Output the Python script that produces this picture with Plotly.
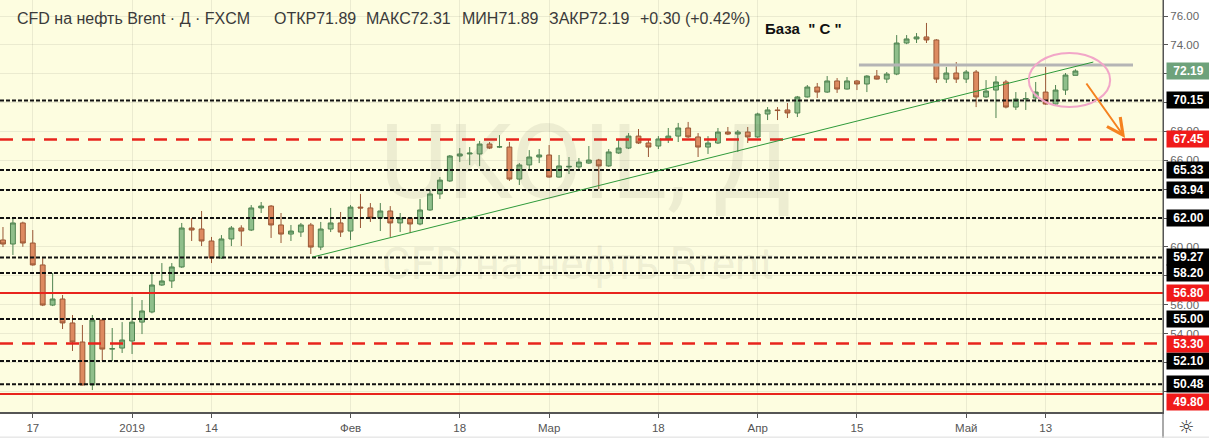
import plotly.graph_objects as go

# ---------------- data ----------------
opens = [60.48, 60.20, 61.66, 60.27, 58.75, 55.97, 56.39, 54.73, 53.41, 50.43,
         54.93, 52.92, 52.99, 53.48, 54.79, 55.49, 57.36, 57.64, 58.61, 61.31,
         61.24, 60.41, 59.23, 60.55, 61.31, 61.17, 62.70, 62.83, 61.52, 60.89,
         61.03, 61.52, 59.99, 61.24, 61.66, 61.10, 62.76, 62.70, 62.00, 62.49,
         61.66, 62.00, 61.59, 62.56, 63.67, 64.57, 66.30, 66.44, 66.44, 67.13,
         66.92, 66.92, 64.70, 65.68, 66.23, 66.37, 64.84, 65.54, 65.54, 65.81,
         66.02, 65.61, 66.51, 66.85, 67.68, 67.20, 66.99, 67.48, 67.68, 68.24,
         67.62, 66.92, 67.20, 67.96, 67.82, 67.96, 67.62, 69.21, 69.49, 69.49,
         69.28, 70.39, 71.08, 70.73, 71.50, 70.94, 71.50, 71.29, 71.84, 71.63,
         71.98, 74.13, 74.41, 74.55, 74.34, 71.63, 72.05, 71.63, 72.12, 70.39,
         70.87, 71.43, 69.69, 70.25, 70.32, 70.73, 69.90, 70.87, 71.89]
highs = [61.38, 62.00, 61.75, 61.17, 59.23, 58.19, 56.67, 55.28, 54.59, 55.28,
         55.00, 54.38, 54.79, 56.53, 56.32, 58.12, 58.88, 58.88, 61.66, 62.00,
         62.49, 60.69, 60.82, 61.45, 61.50, 62.90, 63.11, 62.90, 62.35, 61.52,
         61.66, 61.66, 61.73, 62.70, 62.42, 62.90, 63.67, 63.04, 63.04, 62.83,
         62.35, 62.07, 63.32, 63.94, 64.84, 66.37, 66.85, 66.92, 67.34, 67.27,
         67.75, 67.27, 65.81, 66.71, 66.78, 67.06, 66.37, 66.23, 66.16, 66.99,
         66.10, 66.78, 67.41, 67.89, 68.17, 67.41, 67.68, 68.24, 68.59, 68.66,
         67.89, 67.68, 68.24, 68.31, 68.10, 68.31, 69.30, 69.69, 69.69, 69.97,
         70.46, 71.22, 71.36, 71.84, 71.70, 71.77, 71.57, 71.90, 72.26, 72.12,
         74.68, 74.68, 74.82, 75.52, 74.40, 72.47, 72.81, 72.26, 72.26, 71.56,
         71.84, 71.57, 70.73, 70.73, 71.43, 72.47, 71.22, 72.05, 72.31]
lows = [59.99, 59.44, 60.01, 58.70, 55.90, 55.90, 54.31, 52.79, 50.40, 50.08,
        52.09, 52.09, 52.65, 52.58, 53.96, 55.40, 57.30, 57.15, 58.55, 60.41,
        60.06, 58.88, 59.16, 60.06, 60.06, 61.10, 62.35, 60.62, 60.27, 60.41,
        60.69, 59.51, 59.78, 61.03, 60.69, 60.48, 61.31, 61.73, 61.10, 60.69,
        61.03, 60.96, 61.50, 62.50, 63.32, 64.50, 65.88, 65.67, 65.60, 66.78,
        66.85, 64.57, 64.29, 65.33, 65.81, 64.80, 64.80, 65.05, 65.33, 65.75,
        64.01, 65.55, 66.45, 66.78, 67.13, 66.23, 66.78, 67.20, 67.27, 67.55,
        66.23, 66.44, 67.13, 67.75, 66.58, 67.20, 67.55, 68.79, 68.79, 68.93,
        69.00, 70.35, 70.32, 70.67, 70.67, 70.90, 70.87, 70.73, 71.60, 71.36,
        71.90, 74.05, 74.13, 74.13, 71.36, 71.36, 71.36, 71.36, 69.69, 70.32,
        68.93, 69.60, 69.49, 69.49, 70.04, 69.85, 69.83, 70.53, 71.89]
closes = [60.20, 61.66, 60.27, 58.75, 55.97, 56.39, 54.73, 53.41, 50.43, 54.93,
          52.92, 52.95, 53.55, 54.79, 55.56, 57.36, 57.64, 58.61, 61.31, 61.17,
          60.41, 59.23, 60.55, 61.31, 61.10, 62.70, 62.83, 61.52, 60.89, 61.10,
          61.52, 59.99, 61.24, 61.66, 61.03, 62.76, 62.70, 62.00, 62.49, 61.66,
          62.00, 61.59, 62.56, 63.67, 64.63, 66.30, 66.44, 66.50, 67.13, 66.85,
          66.94, 64.70, 65.68, 66.23, 66.37, 64.84, 65.61, 65.58, 65.88, 66.02,
          65.61, 66.58, 66.85, 67.68, 67.20, 66.92, 67.48, 67.68, 68.24, 67.62,
          66.92, 67.20, 67.96, 67.82, 67.96, 67.62, 69.21, 69.49, 69.45, 69.28,
          70.39, 71.08, 70.73, 71.50, 70.94, 71.50, 71.29, 71.84, 71.63, 71.98,
          74.13, 74.41, 74.55, 74.34, 71.63, 72.05, 71.63, 72.12, 70.39, 70.80,
          71.43, 69.69, 70.25, 70.28, 70.73, 69.90, 70.87, 71.91, 72.19]

tick_idx = [3, 13, 21, 35, 46, 55, 66, 76, 86, 97, 105]
tick_text = ["17", "2019", "14", "Фев", "18", "Мар", "18", "Апр", "15", "Май", "13"]

y_grid_vals = [50, 52, 54, 56, 58, 60, 62, 64, 66, 68, 70, 72, 74, 76]
y_grid_text = ["", "", "54.00", "56.00", "", "60.00", "", "", "66.00", "68.00", "", "", "74.00", "76.00"]

black_levels = [70.15, 65.33, 63.94, 62.00, 59.27, 58.20, 55.00, 52.10, 50.48]
red_dash_levels = [67.45, 53.30]
red_solid_levels = [56.80, 49.80]
last_price = 72.19

resistance_level = 72.61          # grey horizontal line
resistance_span = [86.2, 113.8]   # bar index start/end
trend_x = [31.2, 109.8]
trend_y = [59.30, 72.81]
ellipse_x = [103.3, 111.5]
ellipse_y = [69.69, 73.44]
arrow_from = (109.0, 71.43)
arrow_to = (113.0, 67.55)

legend_title = "CFD на нефть Brent · Д · FXCM"
legend_items = ["ОТКР71.89", "МАКС72.31", "МИН71.89", "ЗАКР72.19", "+0.30 (+0.42%)"]
legend_item_px = [272, 364, 460, 547, 638]
note_text = "База  \" С \""
watermark_big = "UKOIL, Д"
watermark_small = "CFD на нефть Brent"

# ---------------- figure ----------------
x_idx = list(range(len(opens)))
YMIN, YMAX = 48.56, 77.11
XMIN, XMAX = -0.30, 116.82
PLOT_W = 1163

fig = go.Figure()
fig.add_trace(go.Candlestick(
    x=x_idx, open=opens, high=highs, low=lows, close=closes,
    increasing=dict(fillcolor="#8fbf8b", line=dict(color="#4f8350", width=1)),
    decreasing=dict(fillcolor="#dd8a60", line=dict(color="#9a5735", width=1)),
    whiskerwidth=0, showlegend=False, hoverinfo="skip",
))

shapes = []
for lv in black_levels:
    shapes.append(dict(type="line", xref="paper", x0=0, x1=1, yref="y", y0=lv, y1=lv,
                       line=dict(color="#111111", width=2, dash="4px,2px"), layer="above"))
for lv in red_dash_levels:
    shapes.append(dict(type="line", xref="paper", x0=0, x1=1, yref="y", y0=lv, y1=lv,
                       line=dict(color="#e8241c", width=2.5, dash="13px,9px"), layer="above"))
for lv in red_solid_levels:
    shapes.append(dict(type="line", xref="paper", x0=0, x1=1, yref="y", y0=lv, y1=lv,
                       line=dict(color="#e8241c", width=2), layer="above"))
shapes.append(dict(type="line", xref="x", yref="y", x0=resistance_span[0], x1=resistance_span[1],
                   y0=resistance_level, y1=resistance_level,
                   line=dict(color="#b5b5b5", width=3), layer="above"))
shapes.append(dict(type="line", xref="x", yref="y", x0=trend_x[0], x1=trend_x[1],
                   y0=trend_y[0], y1=trend_y[1], line=dict(color="#2e9a3a", width=1), layer="above"))
shapes.append(dict(type="circle", xref="x", yref="y", x0=ellipse_x[0], x1=ellipse_x[1],
                   y0=ellipse_y[0], y1=ellipse_y[1], line=dict(color="#f2a6c8", width=2), layer="above"))
# right border extending into x-axis area, bottom border
shapes.append(dict(type="line", xref="paper", yref="paper", x0=1, x1=1, y0=-0.07, y1=1,
                   line=dict(color="#555555", width=1)))
shapes.append(dict(type="line", xref="paper", yref="paper", x0=0, x1=1.04, y0=-0.061, y1=-0.061,
                   line=dict(color="#dddddd", width=1)))

ann = []
# watermark
ann.append(dict(x=585 / PLOT_W, y=65.88, xref="paper", yref="y", text=watermark_big, showarrow=False,
                font=dict(family="Roboto", size=104, color="rgba(110,110,90,0.11)")))
ann.append(dict(x=578 / PLOT_W, y=58.81, xref="paper", yref="y", text=watermark_small,
                showarrow=False, font=dict(family="Roboto", size=44, color="rgba(110,110,90,0.11)")))
# legend texts
ann.append(dict(x=15 / PLOT_W, y=75.86, xref="paper", yref="y", xanchor="left", text=legend_title,
                showarrow=False, font=dict(family="Liberation Sans", size=16, color="#3a3a3a")))
for txt, px in zip(legend_items, legend_item_px):
    ann.append(dict(x=px / PLOT_W, y=75.86, xref="paper", yref="y", xanchor="left", text=txt,
                    showarrow=False, font=dict(family="Liberation Sans", size=16, color="#3a3a3a")))
# note
ann.append(dict(x=76.5, y=75.17, xref="x", yref="y", xanchor="left", text="<b>" + note_text + "</b>",
                showarrow=False, font=dict(family="Liberation Sans", size=15, color="#111111")))
# arrow
ann.append(dict(x=arrow_to[0], y=arrow_to[1], ax=arrow_from[0], ay=arrow_from[1],
                xref="x", yref="y", axref="x", ayref="y", text="", showarrow=True,
                arrowhead=5, arrowsize=1.6, arrowwidth=2, arrowcolor="#f5821f"))


def price_box(level, color, ypos=None):
    return dict(x=1, xref="paper", xanchor="left", xshift=3, y=level if ypos is None else ypos,
                yref="y", yanchor="middle", text="<b>%.2f</b>" % level, showarrow=False,
                bgcolor=color, width=41, height=14, borderpad=1, align="center",
                font=dict(family="Liberation Sans", size=12, color="white"))


for lv in black_levels:
    ann.append(price_box(lv, "#000000"))
for lv in red_dash_levels:
    ann.append(price_box(lv, "#f01a1a"))
ann.append(price_box(red_solid_levels[0], "#f01a1a"))
ann.append(price_box(red_solid_levels[1], "#f01a1a", ypos=49.27))
ann.append(price_box(last_price, "#6ea27b"))
# gear icon
ann.append(dict(x=1186, y=426, xref="paper", yref="paper", text="☼", showarrow=False,
                xanchor="center", yanchor="middle",
                font=dict(family="DejaVu Sans", size=18, color="#333333")))
ann[-1]["x"] = 1186 / PLOT_W
ann[-1]["y"] = (412 - 426) / 412

fig.update_layout(
    width=1209, height=438,
    margin=dict(l=0, r=46, t=0, b=26),
    paper_bgcolor="#ffffff", plot_bgcolor="#fdfde0",
    shapes=shapes, annotations=ann, showlegend=False,
    xaxis=dict(range=[XMIN, XMAX], tickmode="array", tickvals=tick_idx, ticktext=tick_text,
               showgrid=True, gridcolor="rgba(0,0,0,0.07)", gridwidth=1, zeroline=False,
               showline=True, linecolor="#555555", linewidth=1.5, ticks="outside", ticklen=4,
               tickcolor="#555555", tickfont=dict(family="Liberation Sans", size=11.5, color="#555555"),
               rangeslider=dict(visible=False), fixedrange=True),
    yaxis=dict(range=[YMIN, YMAX], side="right", tickmode="array",
               tickvals=y_grid_vals, ticktext=y_grid_text,
               showgrid=True, gridcolor="rgba(0,0,0,0.07)", zeroline=False,
               showline=True, linecolor="#555555", linewidth=1, ticks="outside", ticklen=4,
               tickcolor="#555555", tickfont=dict(family="Liberation Sans", size=11.5, color="#666666"),
               fixedrange=True),
)

fig.write_html("out.html", config={"displayModeBar": False},
               post_script="document.body.style.margin='0px';document.body.style.overflow='hidden';")
